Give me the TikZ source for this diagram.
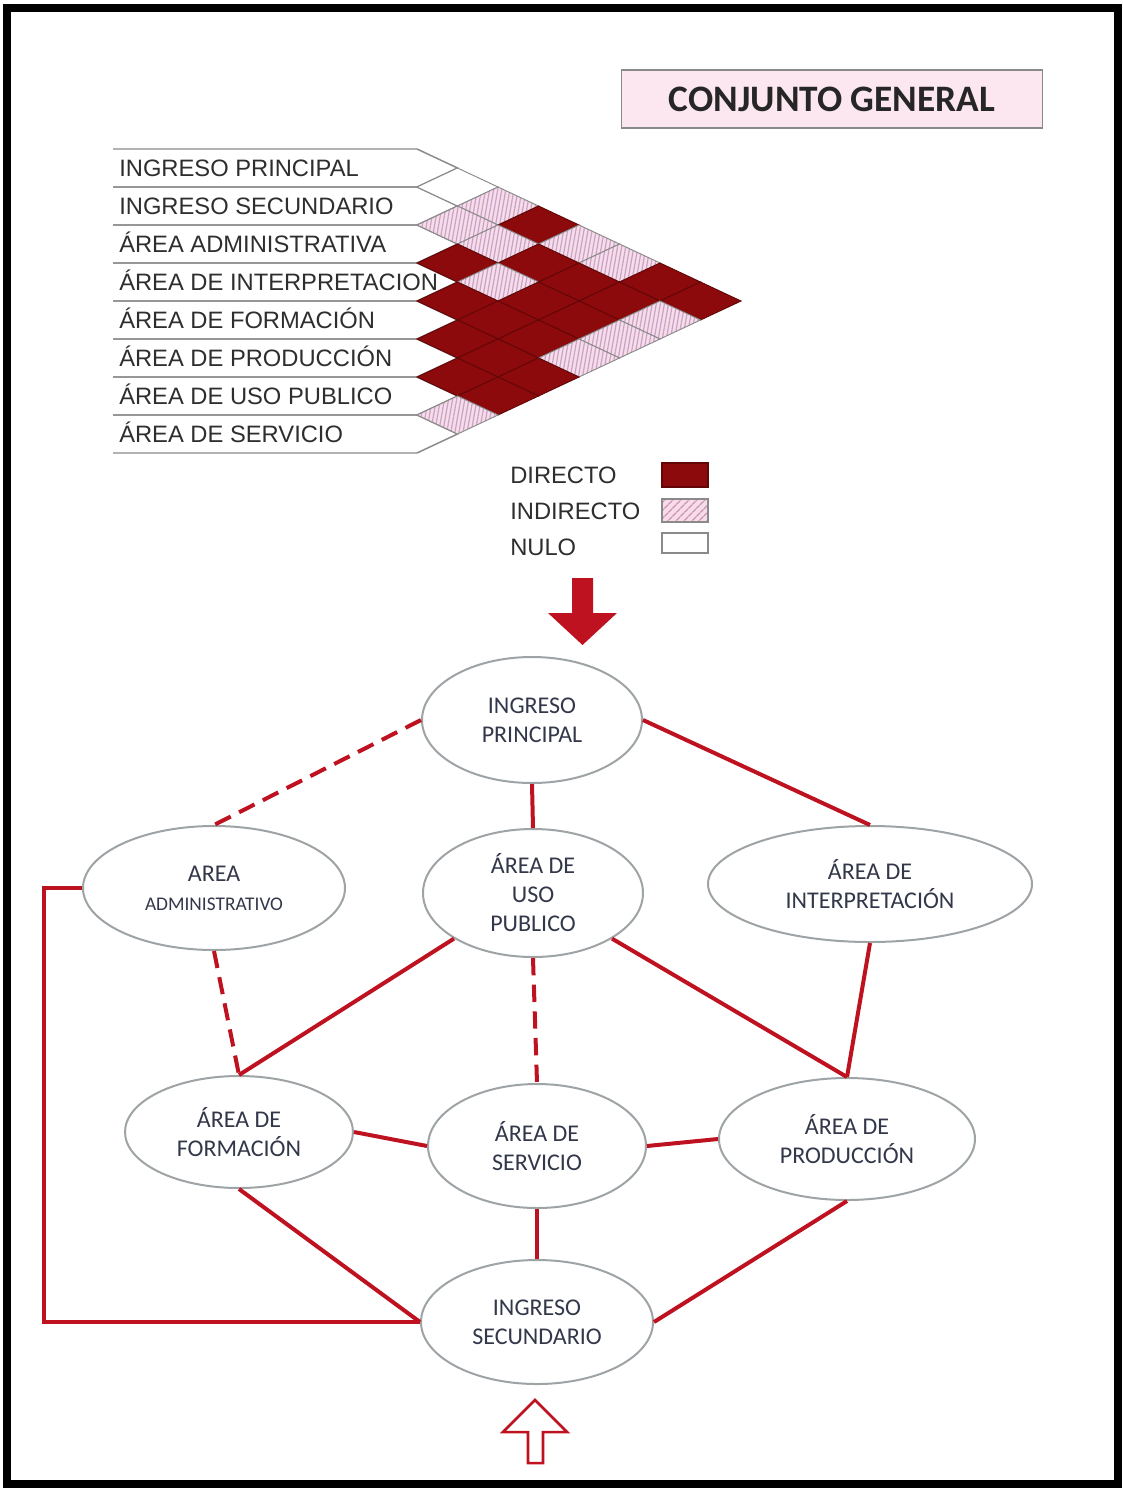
\documentclass[tikz,border=0pt]{standalone}
\usepackage{fontspec}
\setmainfont{Liberation Sans}
\newfontfamily\calfont{Carlito}
\usetikzlibrary{patterns.meta,shapes.geometric}
\definecolor{dircol}{HTML}{8C0A0C}
\definecolor{pinkbg}{HTML}{F7DDE9}
\definecolor{stripe}{HTML}{C8A2C6}
\definecolor{rowgray}{HTML}{8A8A8A}
\definecolor{labtxt}{HTML}{2E2E2E}
\definecolor{ellgray}{HTML}{9EA3A6}
\definecolor{elltxt}{HTML}{33374A}
\definecolor{linkred}{HTML}{BE1220}
\definecolor{titlebg}{HTML}{FCE6EF}
\definecolor{titlegray}{HTML}{8A8A8A}
\begin{document}
\begin{tikzpicture}[x=0.75pt,y=-0.75pt,
  rowline/.style={draw=rowgray, line width=1.1pt},
  cellN/.style={draw=rowgray, line width=0.7pt, fill=white},
  cellI/.style={draw=rowgray, line width=0.7pt, preaction={fill=pinkbg},
     pattern={Lines[angle=80,distance=3pt,line width=0.9pt]}, pattern color=stripe},
  cellD/.style={draw=dircol!70!black, line width=0.7pt, fill=dircol},
  lbl/.style={font=\fontsize{17.8}{20}\selectfont, text=labtxt, inner sep=0pt, anchor=base west},
  ell/.style={ellipse, draw=ellgray, line width=1.5pt, fill=white, inner sep=1pt,
     align=center, text=elltxt, font=\calfont\fontsize{18}{21.75}\selectfont},
  link/.style={draw=linkred, line width=3pt},
  dlink/.style={link, dash pattern=on 13pt off 7pt}
]
\useasboundingbox (0,0) rectangle (1123,1492);
\fill[white] (0,0) rectangle (1123,1492);

% title
\node[draw=titlegray, fill=titlebg, line width=1.2pt, minimum width=315.75pt,
  minimum height=43.5pt, font=\calfont\bfseries\fontsize{28}{30}\selectfont,
  text=black!85] (title) at (832,99) {CONJUNTO GENERAL};

% matrix row outlines
\foreach \i in {0,...,7}{
  \pgfmathsetmacro\yy{168+38*\i}
  \draw[rowline] (113,\yy-19) -- (417,\yy-19) -- (457.5,\yy) -- (417,\yy+19) -- (113,\yy+19);
}
% matrix cells
\foreach \i/\j/\c in {0/1/N,0/2/I,1/2/I,0/3/D,1/3/I,2/3/D,0/4/I,1/4/D,2/4/I,3/4/D,
  0/5/I,1/5/D,2/5/D,3/5/D,4/5/D,0/6/D,1/6/D,2/6/D,3/6/D,4/6/D,5/6/D,
  0/7/D,1/7/I,2/7/I,3/7/I,4/7/D,5/7/D,6/7/I}{
  \pgfmathsetmacro\cx{417+40.5*(\j-\i)}
  \pgfmathsetmacro\cy{168+19*(\i+\j)}
  \path[cell\c] (\cx-40.5,\cy) -- (\cx,\cy-19) -- (\cx+40.5,\cy) -- (\cx,\cy+19) -- cycle;
}
% matrix labels
\node[lbl] (m0) at (119,176.3) {INGRESO PRINCIPAL};
\node[lbl] (m1) at (119,214.3) {INGRESO SECUNDARIO};
\node[lbl] (m2) at (119,252.3) {ÁREA ADMINISTRATIVA};
\node[lbl] (m3) at (119,290.3) {ÁREA DE INTERPRETACION};
\node[lbl] (m4) at (119,328.3) {ÁREA DE FORMACIÓN};
\node[lbl] (m5) at (119,366.3) {ÁREA DE PRODUCCIÓN};
\node[lbl] (m6) at (119,404.3) {ÁREA DE USO PUBLICO};
\node[lbl] (m7) at (119,442.3) {ÁREA DE SERVICIO};

% legend
\node[lbl] (ld) at (510,483.3) {DIRECTO};
\node[lbl] (li) at (510,519.3) {INDIRECTO};
\node[lbl] (ln) at (510,555.3) {NULO};
\node[draw=dircol!70!black, fill=dircol, line width=0.8pt, minimum width=34.5pt, minimum height=18pt, inner sep=0pt] (sd) at (685,475) {};
\node[draw=rowgray, line width=0.8pt, preaction={fill=pinkbg},
  pattern={Lines[angle=45,distance=4pt,line width=1.1pt]}, pattern color=stripe!90!red,
  minimum width=34.5pt, minimum height=17.25pt, inner sep=0pt] (si) at (685,510.5) {};
\node[draw=rowgray, fill=white, line width=0.8pt, minimum width=34.5pt, minimum height=15pt, inner sep=0pt] (sn) at (685,543) {};

% top arrow
\fill[linkred] (572,578) -- (593,578) -- (593,613) -- (617,613) -- (582.5,645)
  -- (548,613) -- (572,613) -- cycle;

% ellipses
\node[ell, minimum width=165pt, minimum height=94.5pt] (ip) at (532,720) {INGRESO\\PRINCIPAL};
\node[ell, minimum width=196.5pt, minimum height=93pt] (adm) at (214,888)
  {AREA\\{\fontsize{14.5}{21.75}\selectfont ADMINISTRATIVO}};
\node[ell, minimum width=165pt, minimum height=96pt] (uso) at (533,893) {ÁREA DE\\USO\\PUBLICO};
\node[ell, minimum width=243pt, minimum height=87pt] (int) at (870,884) {ÁREA DE\\INTERPRETACIÓN};
\node[ell, minimum width=171pt, minimum height=84pt] (fo) at (239,1132) {ÁREA DE\\FORMACIÓN};
\node[ell, minimum width=163.5pt, minimum height=93pt] (ser) at (537,1146) {ÁREA DE\\SERVICIO};
\node[ell, minimum width=192pt, minimum height=91.5pt] (pro) at (847,1139) {ÁREA DE\\PRODUCCIÓN};
\node[ell, minimum width=174pt, minimum height=93pt] (sec) at (537,1322) {INGRESO\\SECUNDARIO};

% links
\draw[dlink] (ip.west) -- (adm.north);
\draw[link] (ip.south) -- (uso.north);
\draw[link] (ip.east) -- (int.north);
\draw[dlink] (adm.south) -- (fo.north);
\draw[link] (uso.210) -- (fo.north);
\draw[dlink] (uso.south) -- (ser.north);
\draw[link] (uso.-30) -- (pro.north);
\draw[link] (int.south) -- (pro.north);
\draw[link] (fo.east) -- (ser.west);
\draw[link] (ser.east) -- (pro.west);
\draw[link] (fo.south) -- (sec.west);
\draw[link] (ser.south) -- (sec.north);
\draw[link] (pro.south) -- (sec.east);
\draw[link] (adm.west) -- ++(-38,0) |- (sec.west);

% bottom arrow
\draw[draw=linkred, fill=white, line width=1.9pt, line join=miter]
  (535,1400) -- (567,1432) -- (543,1432) -- (543,1463) -- (528,1463) -- (528,1432)
  -- (503,1432) -- cycle;

% frame
\draw[line width=6.5pt] (7,8) rectangle (1118,1484);
\end{tikzpicture}
\end{document}
